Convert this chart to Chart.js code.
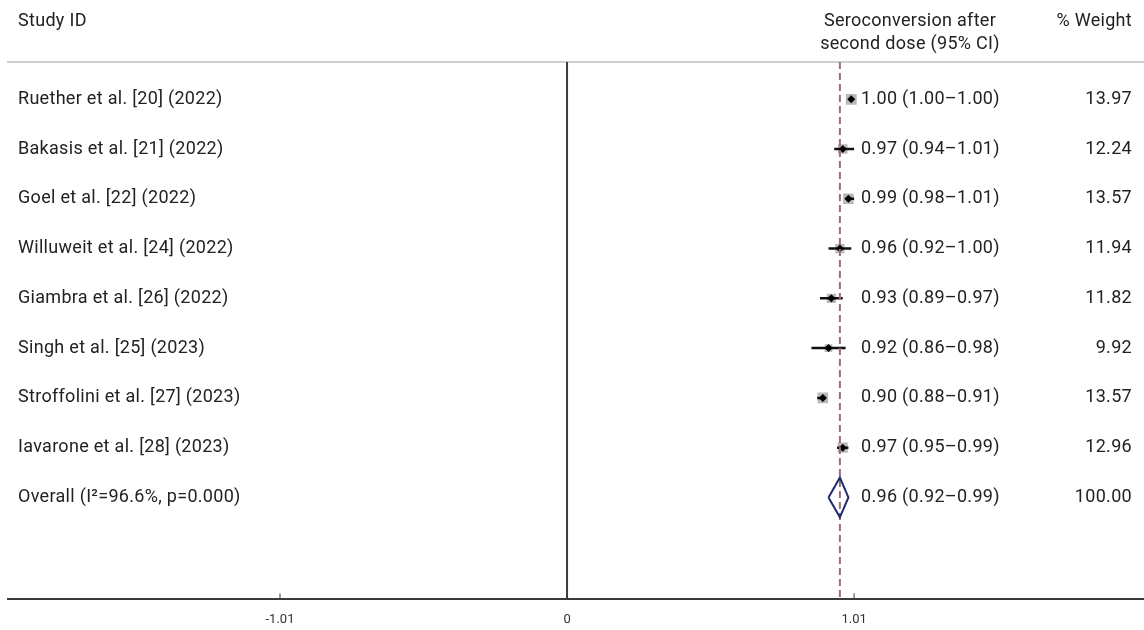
<!DOCTYPE html>
<html>
<head>
<meta charset="utf-8">
<script src="https://cdn.jsdelivr.net/npm/chart.js@4"></script>
<style>
  html, body { margin: 0; padding: 0; background: #fff; }
  canvas { display: block; }
</style>
</head>
<body>
<canvas id="forest" width="1144" height="630"></canvas>
<script>
// study rows
const studies = [
  'Ruether et al. [20] (2022)',
  'Bakasis et al. [21] (2022)',
  'Goel et al. [22] (2022)',
  'Willuweit et al. [24] (2022)',
  'Giambra et al. [26] (2022)',
  'Singh et al. [25] (2023)',
  'Stroffolini et al. [27] (2023)',
  'Iavarone et al. [28] (2023)'
];
const estimates = [1.00, 0.97, 0.99, 0.96, 0.93, 0.92, 0.90, 0.97];
const lowerCI = [1.00, 0.94, 0.98, 0.92, 0.89, 0.86, 0.88, 0.95];
const upperCI = [1.00, 1.01, 1.01, 1.00, 0.97, 0.98, 0.91, 0.99];
const weights = [13.97, 12.24, 13.57, 11.94, 11.82, 9.92, 13.57, 12.96];

// pooled result
const overallLabel = 'Overall (I\u00B2=96.6%, p=0.000)';
const overallEst = 0.96;
const overallLo = 0.92;
const overallHi = 0.99;
const overallWeight = 100.00;

const xTicks = [-1.01, 0, 1.01];
const xTickLabels = ['-1.01', '0', '1.01'];

const X_MIN = -1.967, X_MAX = 2.03;
const Y_MIN = -0.75, Y_MAX = 10.05;
const overallRow = studies.length;

const fmt = v => v.toFixed(2);
const ciText = (e, l, h) => `${fmt(e)} (${fmt(l)}\u2013${fmt(h)})`;

const datasets = [];

// null line at 0
datasets.push({
  data: [{ x: 0, y: Y_MIN }, { x: 0, y: Y_MAX }],
  showLine: true, pointRadius: 0, borderColor: '#3a3a3a', borderWidth: 2, order: 5
});

// overall effect dashed line
datasets.push({
  data: [{ x: overallEst, y: Y_MIN }, { x: overallEst, y: Y_MAX }],
  showLine: true, pointRadius: 0, borderColor: '#9a6e82', borderWidth: 2,
  borderDash: [7, 4], order: 1
});

// tick marks pointing up from the axis
xTicks.forEach(t => {
  datasets.push({
    data: [{ x: t, y: Y_MAX }, { x: t, y: Y_MAX - 0.12 }],
    showLine: true, pointRadius: 0, borderColor: '#3a3a3a', borderWidth: 1, order: 5
  });
});

// weight boxes
datasets.push({
  data: estimates.map((e, i) => ({ x: e, y: i })),
  pointStyle: 'rect',
  pointRadius: weights.map(w => w * 0.55),
  backgroundColor: '#b8b8b8', borderColor: '#b8b8b8', borderWidth: 0, order: 4
});

// confidence intervals
estimates.forEach((e, i) => {
  datasets.push({
    data: [{ x: lowerCI[i], y: i }, { x: upperCI[i], y: i }],
    showLine: true, pointRadius: 0, borderColor: '#111', borderWidth: 2.5, order: 3
  });
});

// point estimates
datasets.push({
  data: estimates.map((e, i) => ({ x: e, y: i })),
  pointStyle: 'rectRot', pointRadius: 4,
  backgroundColor: '#000', borderColor: '#000', borderWidth: 0, order: 2
});

// overall diamond
datasets.push({
  data: [
    { x: overallLo, y: overallRow },
    { x: overallEst, y: overallRow - 0.4 },
    { x: overallHi, y: overallRow },
    { x: overallEst, y: overallRow + 0.4 },
    { x: overallLo, y: overallRow }
  ],
  showLine: true, pointRadius: 0, borderColor: '#202a6c', borderWidth: 2,
  fill: false, tension: 0, order: 0
});

const FONT = '18px Roboto, "Liberation Sans", Arial, sans-serif';
const textColumns = {
  id: 'textColumns',
  afterDraw(chart) {
    const ctx = chart.ctx;
    const y = chart.scales.y;
    ctx.save();
    ctx.fillStyle = '#222';
    ctx.font = FONT;
    ctx.letterSpacing = '0.3px';
    ctx.textBaseline = 'middle';

    // headers
    ctx.textAlign = 'left';
    ctx.fillText('Study ID', 18, 21);
    ctx.textAlign = 'center';
    ctx.fillText('Seroconversion after', 910, 21);
    ctx.fillText('second dose (95% CI)', 910, 44);
    ctx.textAlign = 'right';
    ctx.fillText('% Weight', 1132, 21);

    studies.forEach((s, i) => {
      const py = y.getPixelForValue(i);
      ctx.textAlign = 'left';
      ctx.fillText(s, 18, py);
      ctx.fillText(ciText(estimates[i], lowerCI[i], upperCI[i]), 861, py);
      ctx.textAlign = 'right';
      ctx.fillText(fmt(weights[i]), 1132, py);
    });

    const oy = y.getPixelForValue(overallRow);
    ctx.textAlign = 'left';
    ctx.fillText(overallLabel, 18, oy);
    ctx.fillText(ciText(overallEst, overallLo, overallHi), 861, oy);
    ctx.textAlign = 'right';
    ctx.fillText(fmt(overallWeight), 1132, oy);
    ctx.restore();
  }
};

new Chart(document.getElementById('forest'), {
  type: 'scatter',
  data: { datasets },
  plugins: [textColumns],
  options: {
    responsive: false,
    animation: false,
    devicePixelRatio: 1,
    layout: { autoPadding: false, padding: { left: 8, right: 0, top: 62, bottom: -11 } },
    plugins: { legend: { display: false }, tooltip: { enabled: false } },
    scales: {
      x: {
        type: 'linear',
        min: X_MIN,
        max: X_MAX,
        afterBuildTicks: axis => { axis.ticks = xTicks.map(v => ({ value: v })); },
        ticks: {
          color: '#333',
          font: { family: 'Roboto, "Liberation Sans", Arial, sans-serif', size: 13 },
          padding: 13,
          maxRotation: 0,
          autoSkip: false,
          callback: (v) => xTickLabels[xTicks.indexOf(v)]
        },
        grid: { display: false, tickLength: 0 },
        border: { display: true, color: '#3a3a3a', width: 2 }
      },
      xTop: {
        type: 'linear',
        position: 'top',
        min: X_MIN,
        max: X_MAX,
        ticks: { display: false, padding: 0 },
        grid: { display: false, tickLength: 0 },
        border: { display: true, color: '#cfcfcf', width: 2 }
      },
      y: {
        type: 'linear',
        min: Y_MIN,
        max: Y_MAX,
        reverse: true,
        display: false
      }
    }
  }
});
</script>
</body>
</html>
